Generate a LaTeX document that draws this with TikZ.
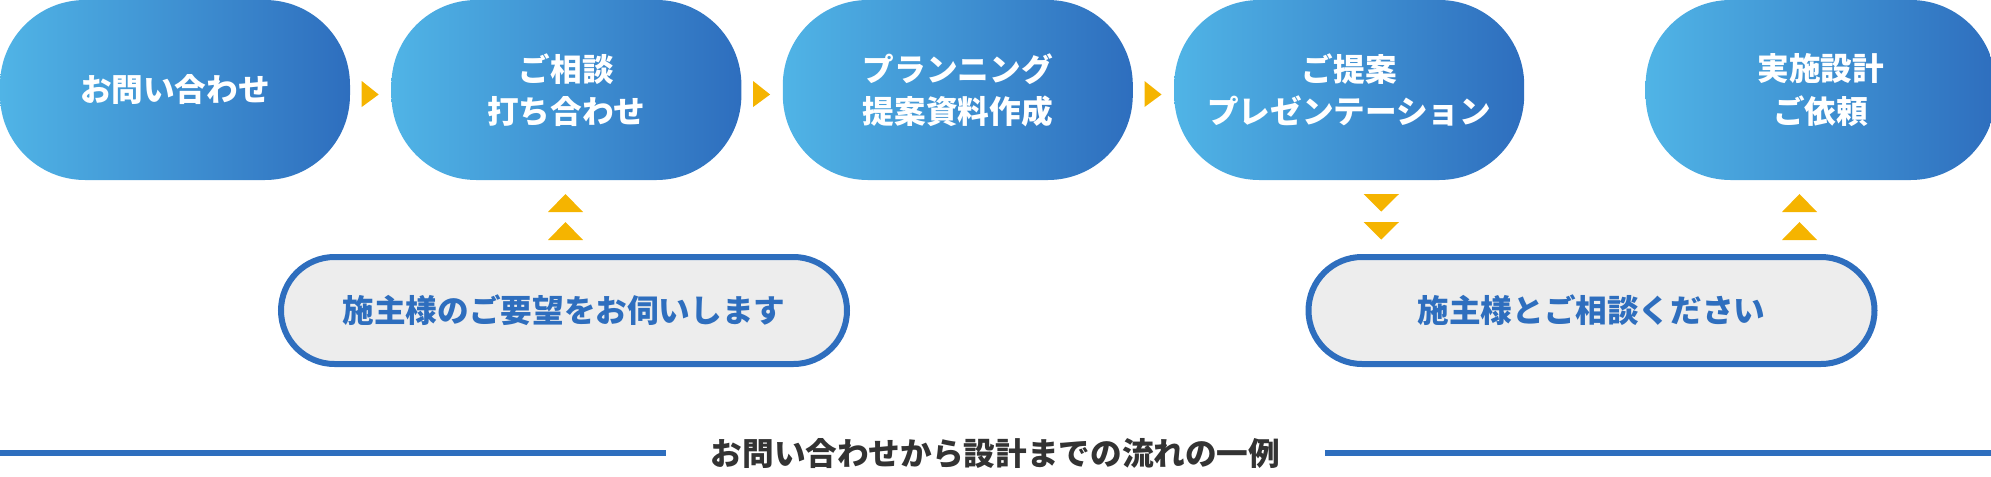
\documentclass[tikz,border=0pt]{standalone}
\usepackage{fontspec}
\newfontfamily\jpfont{Noto Sans CJK JP}
\usepackage{tikz}
\usetikzlibrary{positioning,calc}
\definecolor{lightblue}{HTML}{50B4E6}
\definecolor{deepblue}{HTML}{2E6EBE}
\definecolor{markgold}{HTML}{F5B400}
\definecolor{palegrey}{HTML}{EDEDED}
\definecolor{inkgrey}{HTML}{333333}
\tikzstyle{flowbox}=[minimum width=3.5cm,minimum height=1.8cm,rounded corners=0.85cm,left color=lightblue,right color=deepblue,text=white,align=center,inner sep=0pt,font=\jpfont\bfseries\fontsize{9}{12}\selectfont]
\tikzstyle{notebox}=[draw=deepblue,line width=0.06cm,fill=palegrey,minimum width=5.66cm,minimum height=1.07cm,rounded corners=0.535cm,text=deepblue,inner sep=0pt,font=\jpfont\bfseries\fontsize{9}{12}\selectfont]
\begin{document}
\begin{tikzpicture}
    \useasboundingbox (0,0) rectangle (19.91,-4.76);
    % steps
    \node [flowbox] (consult) at (1.75,-0.9) {お問い合わせ};
    \node [flowbox,right=0.4cm of consult] (meeting) {ご相談\\打ち合わせ};
    \node [flowbox,right=0.4cm of meeting] (planning) {プランニング\\提案資料作成};
    \node [flowbox,right=0.4cm of planning] (present) {ご提案\\プレゼンテーション};
    \node [flowbox,right=1.2cm of present] (order) {実施設計\\ご依頼};
    % notes
    \node [notebox] (wishes) at (5.64,-3.105) {施主様のご要望をお伺いします};
    \node [notebox] (talk) at (15.915,-3.105) {施主様とご相談ください};
    % caption
    \node [font=\jpfont\bfseries\fontsize{9}{12}\selectfont,text=inkgrey,inner sep=0pt] (caption) at (9.955,-4.535) {お問い合わせから設計までの流れの一例};
    \coordinate (lineL) at (0,-4.53);
    \coordinate (lineR) at (19.91,-4.53);
    \draw [deepblue,line width=0.06cm] (lineL) -- ([xshift=-0.44cm]caption.west |- lineL);
    \draw [deepblue,line width=0.06cm] ([xshift=0.44cm]caption.east |- lineR) -- (lineR);
    % markers
    \foreach \a/\b in {consult/meeting,meeting/planning,planning/present}
      \fill [markgold] ($(\a.east)+(0.11,0.09)$) -- ($(\a.east)+(0.11,-0.17)$) -- ($(\a.east)+(0.28,-0.045)$) -- cycle;
    \foreach \x in {5.655,17.995}
      \foreach \y in {1.94,2.22}
        \fill [markgold] (\x-0.175,-\y-0.18) -- (\x+0.175,-\y-0.18) -- (\x,-\y) -- cycle;
    \foreach \y in {1.94,2.22}
      \fill [markgold] (13.635,-\y) -- (13.99,-\y) -- (13.8125,-\y-0.175) -- cycle;
\end{tikzpicture}
\end{document}
